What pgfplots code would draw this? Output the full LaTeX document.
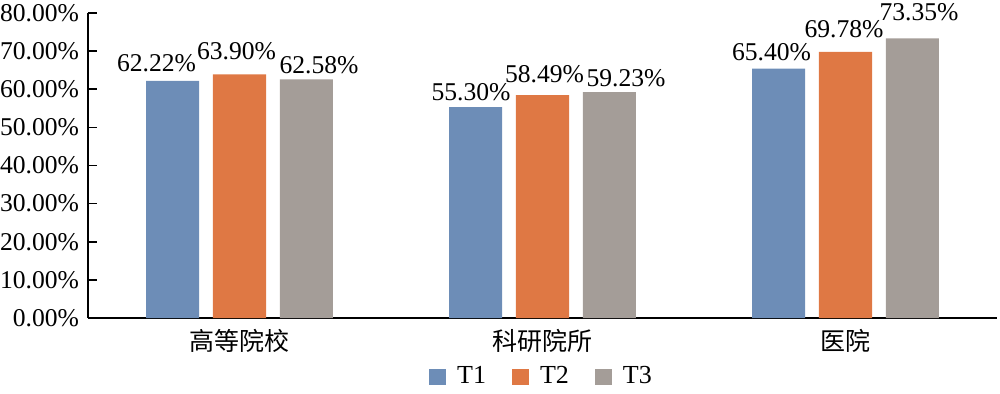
\documentclass[border=0pt]{standalone}
\usepackage{fontspec}
\setmainfont{Liberation Serif}
\newfontfamily\cjk{Noto Sans CJK SC}
\usepackage{pgfplots}
\pgfplotsset{compat=1.18}
\definecolor{cA}{RGB}{109,141,183}
\definecolor{cB}{RGB}{223,120,68}
\definecolor{cC}{RGB}{164,157,152}
\begin{document}
\fontsize{12.8}{15}\selectfont
\begin{tikzpicture}
\begin{axis}[
  scale only axis, width=454.5pt, height=152.5pt,
  xmin=-0.5, xmax=2.5, ymin=0, ymax=80,
  axis x line=bottom, axis y line=left,
  axis line style={-, line width=0.8pt, black},
  ytick distance=10,
  ytick style={line width=0.8pt, black},
  major tick length=4.5pt,
  tick align=inside,
  yticklabel={\pgfmathprintnumber[fixed,fixed zerofill,precision=2]{\tick}\%},
  /pgf/number format/assume math mode=true,
  ticklabel style={font=\fontsize{12.8}{15}\selectfont},
  xtick={0,1,2},
  xticklabels={{\cjk 高等院校},{\cjk 科研院所},{\cjk 医院}},
  x tick style={draw=none},
  xticklabel style={yshift=3.5pt, font=\fontsize{12.5}{15}\selectfont},
  ybar, bar width=0.175,
  visualization depends on={\thisrow{dx}\as\dx},
  visualization depends on={\thisrow{dy}\as\dy},
  nodes near coords={\pgfmathprintnumber[fixed,fixed zerofill,precision=2]{\pgfplotspointmeta}\%},
  nodes near coords style={font=\fontsize{12.8}{15}\selectfont, inner sep=0pt, anchor=base, xshift=\dx pt, yshift=\dy pt},
  legend style={draw=none, fill=none, at={(0.5,-29.5pt)}, anchor=center, legend columns=-1,
    font=\fontsize{13}{15}\selectfont,
    /tikz/every odd column/.append style={column sep=3.5pt},
    /tikz/every even column/.append style={column sep=11pt}},
  legend image code/.code={\fill[#1] (0pt,-4pt) rectangle (8.5pt,4pt);},
  clip=false,
]
\addplot[fill=cA, draw=none, bar shift=-0.221] table[x=x,y=y] {
x y dx dy
0 62.22 -8 4.5
1 55.30 -2.25 3.5
2 65.40 -3.5 3.85
};
\addplot[fill=cB, draw=none, bar shift=0] table[x=x,y=y] {
x y dx dy
0 63.90 -1.5 7.5
1 58.49 1 6.5
2 69.78 -0.75 7
};
\addplot[fill=cC, draw=none, bar shift=0.221] table[x=x,y=y] {
x y dx dy
0 62.58 6.25 3
1 59.23 8.25 3
2 73.35 3.25 9
};
\legend{T1,T2,T3}
\end{axis}
\pgfresetboundingbox
\path[use as bounding box] (-44pt,-37.5pt) rectangle (456pt,159pt);
\end{tikzpicture}
\end{document}
